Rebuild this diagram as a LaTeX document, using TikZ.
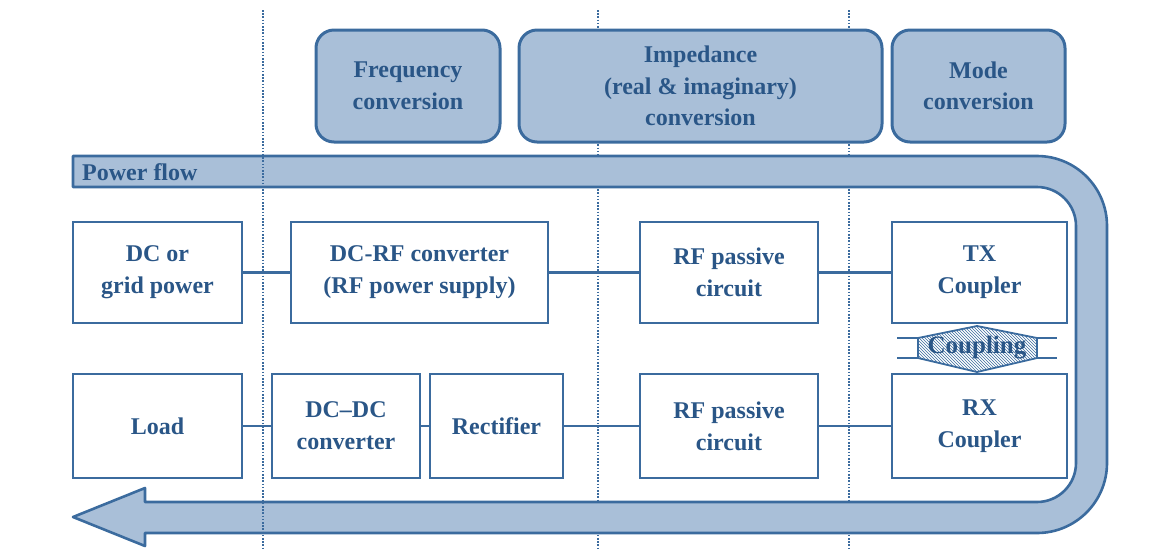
\documentclass[tikz,border=0pt]{standalone}
\usepackage{fontspec}
\setmainfont{Liberation Serif}
\usetikzlibrary{patterns}
\definecolor{lineblue}{HTML}{3B6B9E}
\definecolor{textblue}{HTML}{2A5687}
\definecolor{fillblue}{HTML}{A9BFD8}
\tikzset{
  box/.style={draw=lineblue, line width=2.8pt, fill=white, align=center, text=textblue,
    font=\bfseries\fontsize{24}{32}\selectfont, inner sep=0pt},
  topbox/.style={draw=lineblue, line width=3pt, fill=fillblue, rounded corners=18pt, align=center,
    text=textblue, font=\bfseries\fontsize{24}{31.5}\selectfont, inner sep=0pt},
  conn/.style={draw=lineblue, line width=2.2pt},
  sep/.style={draw=lineblue, line width=1.6pt, dash pattern=on 1.6pt off 1.6pt},
  band/.style={draw=lineblue, line width=2.6pt, fill=fillblue, line join=round}
}
\begin{document}
\begin{tikzpicture}[x=1pt,y=1pt]
\useasboundingbox (0,0) rectangle (1165,-550);
% separators
\coordinate (s1t) at (263,-10); \coordinate (s1b) at (263,-550);
\coordinate (s2t) at (598,-10); \coordinate (s2b) at (598,-550);
\coordinate (s3t) at (849,-10); \coordinate (s3b) at (849,-550);
\draw[sep] (s2t) -- (s2b);
\draw[sep] (s3t) -- (s3b);
% top boxes
\node[topbox, minimum width=184pt, minimum height=112pt] (freq) at (408,-86) {Frequency\\conversion};
\node[topbox, minimum width=363pt, minimum height=112pt] (imp) at (700.5,-86) {Impedance\\(real \& imaginary)\\conversion};
\node[topbox, minimum width=173pt, minimum height=112pt] (mode) at (978.5,-86) {Mode\\conversion};
% power flow band
\draw[band] (73,-156) -- (1037,-156) arc[start angle=90,end angle=0,radius=70pt]
  -- (1107,-463) arc[start angle=0,end angle=-90,radius=70pt]
  -- (145,-533) -- (145,-546) -- (73,-517) -- (145,-488) -- (145,-502)
  -- (1037,-502) arc[start angle=-90,end angle=0,radius=39pt]
  -- (1076,-226) arc[start angle=0,end angle=90,radius=39pt]
  -- (73,-187) -- cycle;
\node[anchor=west, text=textblue, font=\bfseries\fontsize{24}{28}\selectfont, inner sep=0pt] (pf) at (82,-172) {Power flow};
\draw[sep] (s1t) -- (s1b);
% row 1
\node[box, minimum width=169pt, minimum height=101pt] (dc) at (157.5,-272.5) {DC or\\grid power};
\node[box, minimum width=257pt, minimum height=101pt] (dcrf) at (419.5,-272.5) {DC-RF converter\\(RF power supply)};
\node[box, minimum width=178pt, minimum height=101pt] (rf1) at (729,-272.5) {RF passive\\circuit};
\node[box, minimum width=175pt, minimum height=101pt] (tx) at (979.5,-272.5) {TX\\Coupler};
% row 2
\node[box, minimum width=169pt, minimum height=104pt] (load) at (157.5,-426) {Load};
\node[box, minimum width=148pt, minimum height=104pt] (dcdc) at (346,-426) {DC--DC\\converter};
\node[box, minimum width=133pt, minimum height=104pt] (rect) at (496.5,-426) {Rectifier};
\node[box, minimum width=178pt, minimum height=104pt] (rf2) at (729,-426) {RF passive\\circuit};
\node[box, minimum width=175pt, minimum height=104pt] (rx) at (979.5,-426) {RX\\Coupler};
% connectors
\draw[conn] (dc) -- (dcrf);
\draw[conn] (dcrf) -- (rf1);
\draw[conn] (rf1) -- (tx);
\draw[conn] (load) -- (dcdc);
\draw[conn] (dcdc) -- (rect);
\draw[conn] (rect) -- (rf2);
\draw[conn] (rf2) -- (rx);
% coupling
\draw[draw=lineblue, line width=1.8pt, pattern=north west lines, pattern color=lineblue]
  (918,-338) -- (977,-326) -- (1037,-338) -- (1037,-358) -- (977,-372) -- (918,-358) -- cycle;
\draw[draw=lineblue, line width=1.8pt] (897,-338) -- (918,-338) (897,-358) -- (918,-358)
  (1037,-338) -- (1057,-338) (1037,-358) -- (1057,-358);
\node[text=textblue, font=\bfseries\fontsize{25}{28}\selectfont, inner sep=0pt] (coup) at (977,-348) {Coupling};
\end{tikzpicture}
\end{document}
